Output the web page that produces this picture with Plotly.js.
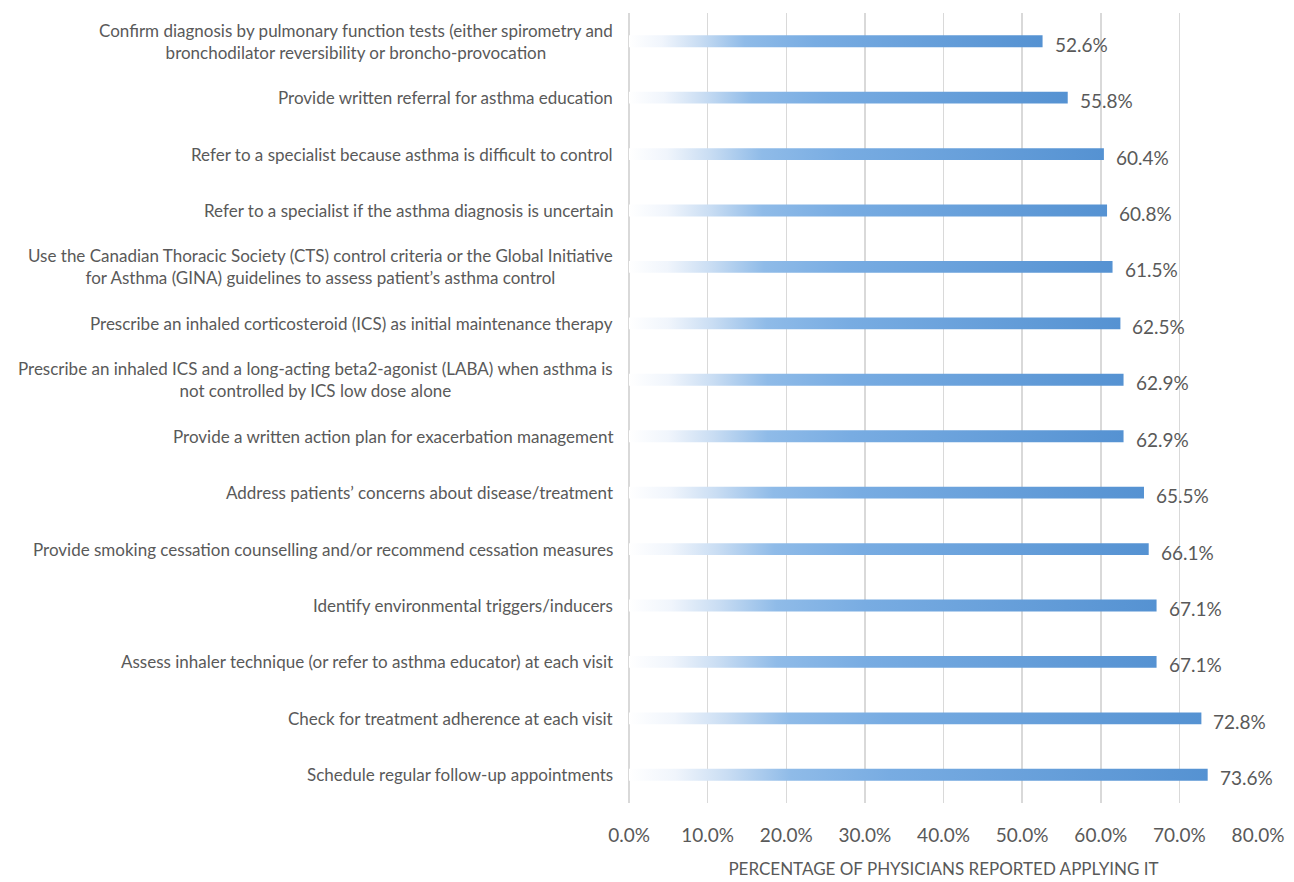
<!DOCTYPE html>
<html>
<head>
<meta charset="utf-8">
<script src="https://cdn.plot.ly/plotly-3.0.1.min.js"></script>
<style>html,body{margin:0;padding:0;background:#fff;}#chart{width:1294px;height:882px;}</style>
</head>
<body>
<div id="chart"></div>
<script>
var categories = [
  "Confirm diagnosis by pulmonary function tests (either spirometry and<br>bronchodilator reversibility or broncho-provocation",
  "Provide written referral for asthma education",
  "Refer to a specialist because asthma is difficult to control",
  "Refer to a specialist if the asthma diagnosis is uncertain",
  "Use the Canadian Thoracic Society (CTS) control criteria or the Global Initiative<br>for Asthma (GINA) guidelines to assess patient\u2019s asthma control",
  "Prescribe an inhaled corticosteroid (ICS) as initial maintenance therapy",
  "Prescribe an inhaled ICS and a long-acting beta2-agonist (LABA) when asthma is<br>not controlled by ICS low dose alone",
  "Provide a written action plan for exacerbation management",
  "Address patients\u2019 concerns about disease/treatment",
  "Provide smoking cessation counselling and/or recommend cessation measures",
  "Identify environmental triggers/inducers",
  "Assess inhaler technique (or refer to asthma educator) at each visit",
  "Check for treatment adherence at each visit",
  "Schedule regular follow-up appointments"
];
var values = [52.6, 55.8, 60.4, 60.8, 61.5, 62.5, 62.9, 62.9, 65.5, 66.1, 67.1, 67.1, 72.8, 73.6];
var xTicks = [0, 10, 20, 30, 40, 50, 60, 70, 80];
var xTickLabels = ["0.0%", "10.0%", "20.0%", "30.0%", "40.0%", "50.0%", "60.0%", "70.0%", "80.0%"];
var axisTitle = "PERCENTAGE OF PHYSICIANS REPORTED APPLYING IT";

var FONT = "Lato, 'Open Sans', sans-serif";
var GREY = "#595959";
var half = 0.105;

var traces = [];
var annotations = [];
values.forEach(function(v, i) {
  traces.push({
    type: "scatter",
    mode: "lines",
    x: [0, v, v, 0, 0],
    y: [i - half, i - half, i + half, i + half, i - half],
    fill: "toself",
    line: {width: 0, color: "rgba(0,0,0,0)"},
    fillgradient: {
      type: "horizontal",
      colorscale: [[0, "#ffffff"], [0.08, "#f0f5fc"], [0.17, "#c9ddf3"], [0.28, "#8fbbe8"], [0.45, "#78ace2"], [1, "#5592d2"]]
    },
    hoverinfo: "skip",
    showlegend: false
  });
  annotations.push({
    x: 0, xref: "paper", y: i, yref: "y",
    xanchor: "right", yanchor: "middle", xshift: -14,
    align: "center", showarrow: false,
    text: categories[i],
    font: {family: FONT, size: 17, color: GREY}
  });
  annotations.push({
    x: v, xref: "x", y: i, yref: "y",
    xanchor: "left", yanchor: "middle", xshift: 10, yshift: -3,
    showarrow: false,
    text: v.toFixed(1) + "%",
    font: {family: FONT, size: 19, color: GREY}
  });
});

var layout = {
  width: 1294, height: 882,
  margin: {l: 629, r: 36, t: 13, b: 79},
  paper_bgcolor: "#ffffff", plot_bgcolor: "#ffffff",
  font: {family: FONT, color: GREY},
  xaxis: {
    range: [0, 80],
    tickvals: xTicks, ticktext: xTickLabels,
    showgrid: true, gridcolor: "#d9d9d9", gridwidth: 1.5,
    zeroline: true, zerolinecolor: "#d9d9d9", zerolinewidth: 1.5,
    showline: false, ticks: "",
    ticklabelstandoff: 19,
    tickfont: {family: FONT, size: 19, color: GREY},
    title: {text: axisTitle, font: {family: FONT, size: 17, color: GREY}, standoff: 18},
    fixedrange: true
  },
  yaxis: {
    range: [13.5, -0.5],
    showgrid: false, zeroline: false, showline: false,
    showticklabels: false, ticks: "",
    fixedrange: true
  },
  annotations: annotations
};

Plotly.newPlot("chart", traces, layout, {displayModeBar: false, staticPlot: true});
</script>
</body>
</html>
